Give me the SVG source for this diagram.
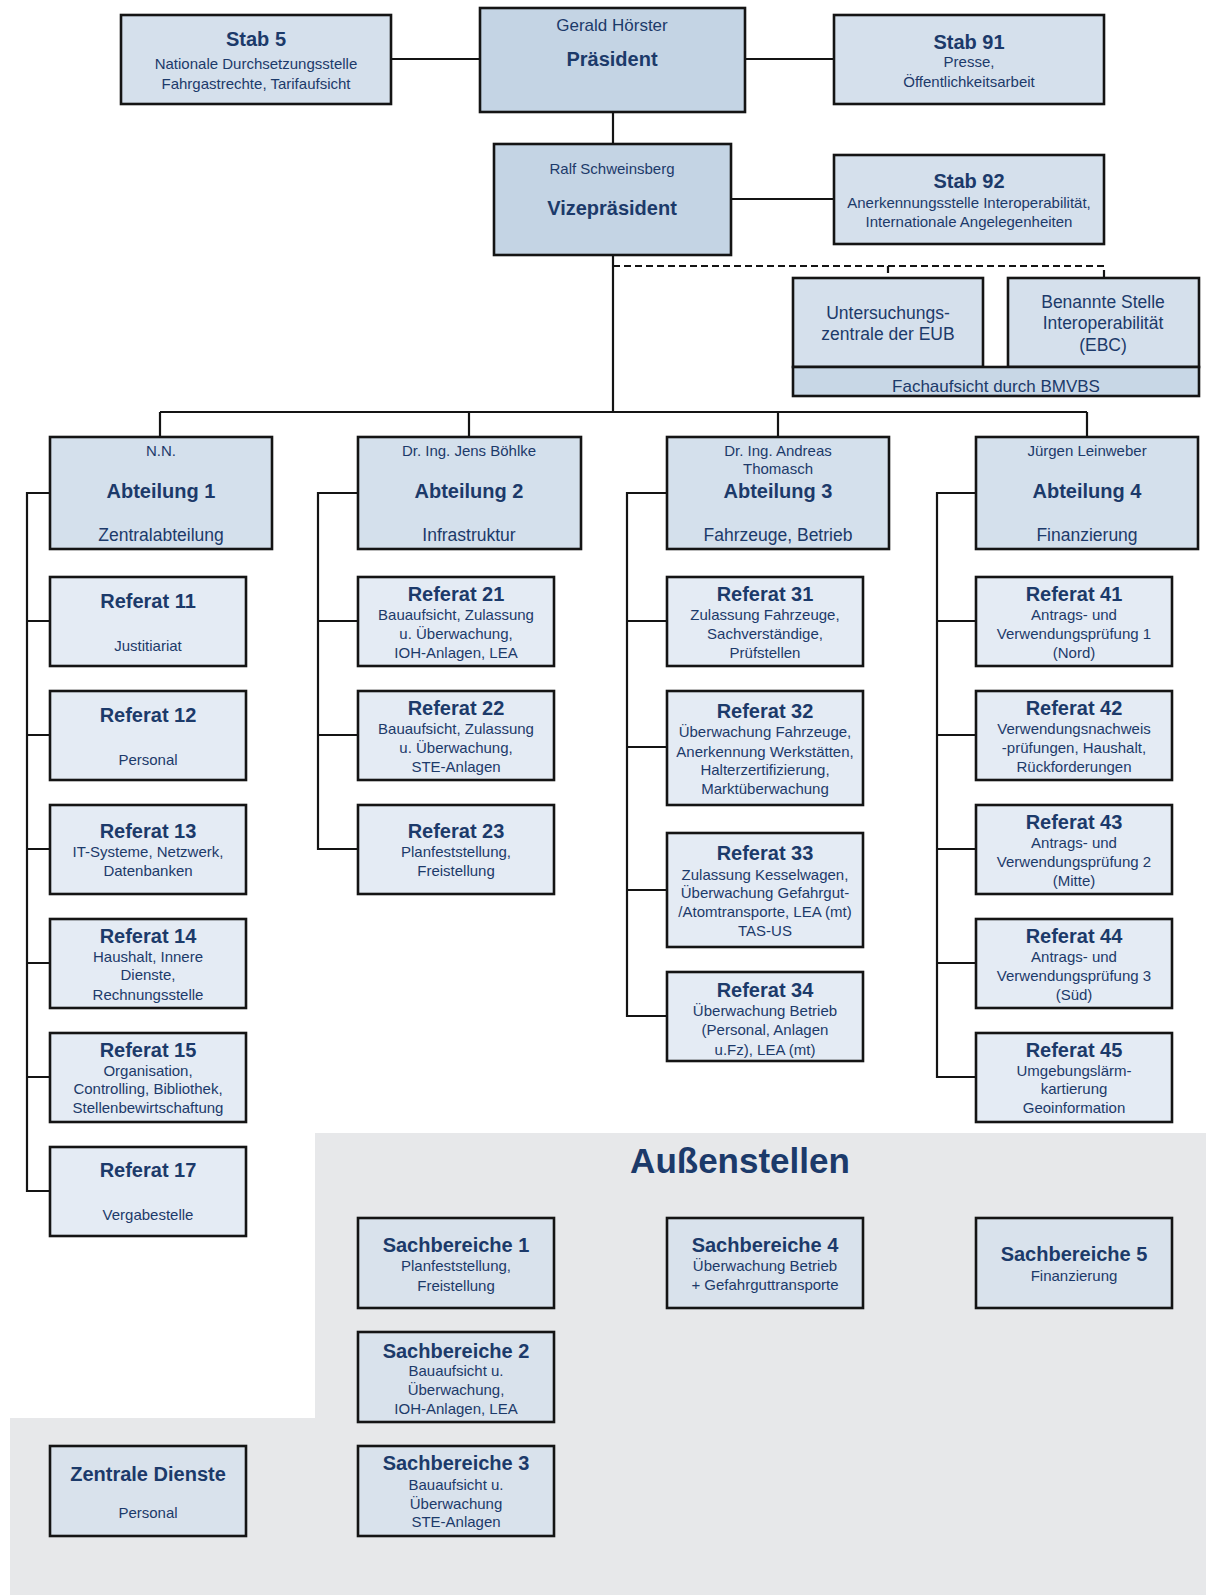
<svg xmlns="http://www.w3.org/2000/svg" width="1206" height="1595" viewBox="0 0 1206 1595">
<style>
text{font-family:"Liberation Sans",Arial,sans-serif;fill:#1c3a6a;text-anchor:middle}
.t{font-weight:bold;font-size:20px}
.s{font-size:15px}
.m{font-size:17.5px}
.box{stroke:#141414;stroke-width:2.6}
.top{fill:#c4d4e4}
.stab{fill:#d5e0ec}
.abt{fill:#d4e0ec}
.ref{fill:#e4ebf4}
.sb{fill:#d9e2ec}
.bar{fill:#c8d7e6}
.c{fill:none;stroke:#141414;stroke-width:2.2}
.d{fill:none;stroke:#141414;stroke-width:2.2;stroke-dasharray:7 4}
</style>
<rect width="1206" height="1595" fill="#ffffff"/>
<path d="M315,1133 H1206 V1595 H10 V1418 H315 Z" fill="#e7e8ea"/>
<text x="740" y="1173" style="font-weight:bold;font-size:35px">Außenstellen</text>

<g id="connectors">
<path class="c" d="M391,59 H480 M745,59 H834 M613,112 V143 M731,199 H834 M613,255 V412"/>
<path class="d" d="M613,266 H1104 V278 M888,266 V278"/>
<path class="c" d="M160,412 H1087 M160,412 V437 M469,412 V437 M778,412 V437 M1087,412 V437"/>
<path class="c" d="M50,493 H27 V1191 H50 M27,621 H50 M27,735 H50 M27,849 H50 M27,963 H50 M27,1077 H50"/>
<path class="c" d="M358,493 H318 V849 H358 M318,621 H358 M318,735 H358"/>
<path class="c" d="M667,493 H627 V1016 H667 M627,621 H667 M627,747 H667 M627,890 H667"/>
<path class="c" d="M976,493 H937 V1077 H976 M937,621 H976 M937,735 H976 M937,849 H976 M937,963 H976"/>
</g>

<g id="stab5"><rect class="box stab" x="121" y="15" width="270" height="89"/>
<text class="t" x="256" y="46">Stab 5</text>
<text class="s" x="256" y="69">Nationale Durchsetzungsstelle</text>
<text class="s" x="256" y="89">Fahrgastrechte, Tarifaufsicht</text></g>

<g id="praesident"><rect class="box top" x="480" y="8" width="265" height="104"/>
<text x="612" y="31" style="font-size:17px">Gerald Hörster</text>
<text class="t" x="612" y="66">Präsident</text></g>

<g id="stab91"><rect class="box stab" x="834" y="15" width="270" height="89"/>
<text class="t" x="969" y="49">Stab 91</text>
<text class="s" x="969" y="67">Presse,</text>
<text class="s" x="969" y="87">Öffentlichkeitsarbeit</text></g>

<g id="vize"><rect class="box top" x="494" y="144" width="237" height="111"/>
<text x="612" y="174" style="font-size:15px">Ralf Schweinsberg</text>
<text class="t" x="612" y="215">Vizepräsident</text></g>

<g id="stab92"><rect class="box stab" x="834" y="155" width="270" height="89"/>
<text class="t" x="969" y="188">Stab 92</text>
<text class="s" x="969" y="208">Anerkennungsstelle Interoperabilität,</text>
<text class="s" x="969" y="227">Internationale Angelegenheiten</text></g>

<g id="eub"><rect class="box stab" x="793" y="278" width="190" height="89"/>
<text class="m" x="888" y="319">Untersuchungs-</text>
<text class="m" x="888" y="340">zentrale der EUB</text></g>

<g id="ebc"><rect class="box stab" x="1008" y="278" width="191" height="89"/>
<text class="m" x="1103" y="308">Benannte Stelle</text>
<text class="m" x="1103" y="329">Interoperabilität</text>
<text class="m" x="1103" y="351">(EBC)</text></g>

<g id="fachaufsicht"><rect class="box bar" x="793" y="367" width="406" height="29"/>
<text x="996" y="392" style="font-size:17px">Fachaufsicht durch BMVBS</text></g>

<g id="abt1"><rect class="box abt" x="50" y="437" width="222" height="112"/>
<text class="s" x="161" y="456">N.N.</text>
<text class="t" x="161" y="498">Abteilung 1</text>
<text class="m" x="161" y="541">Zentralabteilung</text></g>

<g id="abt2"><rect class="box abt" x="358" y="437" width="223" height="112"/>
<text class="s" x="469" y="456">Dr. Ing. Jens Böhlke</text>
<text class="t" x="469" y="498">Abteilung 2</text>
<text class="m" x="469" y="541">Infrastruktur</text></g>

<g id="abt3"><rect class="box abt" x="667" y="437" width="222" height="112"/>
<text class="s" x="778" y="456">Dr. Ing. Andreas</text>
<text class="s" x="778" y="474">Thomasch</text>
<text class="t" x="778" y="498">Abteilung 3</text>
<text class="m" x="778" y="541">Fahrzeuge, Betrieb</text></g>

<g id="abt4"><rect class="box abt" x="976" y="437" width="222" height="112"/>
<text class="s" x="1087" y="456">Jürgen Leinweber</text>
<text class="t" x="1087" y="498">Abteilung 4</text>
<text class="m" x="1087" y="541">Finanzierung</text></g>

<g id="ref11"><rect class="box ref" x="50" y="577" width="196" height="89"/>
<text class="t" x="148" y="608">Referat 11</text>
<text class="s" x="148" y="651">Justitiariat</text></g>
<g id="ref12"><rect class="box ref" x="50" y="691" width="196" height="89"/>
<text class="t" x="148" y="722">Referat 12</text>
<text class="s" x="148" y="765">Personal</text></g>
<g id="ref13"><rect class="box ref" x="50" y="805" width="196" height="89"/>
<text class="t" x="148" y="838">Referat 13</text>
<text class="s" x="148" y="857">IT-Systeme, Netzwerk,</text>
<text class="s" x="148" y="876">Datenbanken</text></g>
<g id="ref14"><rect class="box ref" x="50" y="919" width="196" height="89"/>
<text class="t" x="148" y="943">Referat 14</text>
<text class="s" x="148" y="962">Haushalt, Innere</text>
<text class="s" x="148" y="980">Dienste,</text>
<text class="s" x="148" y="1000">Rechnungsstelle</text></g>
<g id="ref15"><rect class="box ref" x="50" y="1033" width="196" height="89"/>
<text class="t" x="148" y="1057">Referat 15</text>
<text class="s" x="148" y="1076">Organisation,</text>
<text class="s" x="148" y="1094">Controlling, Bibliothek,</text>
<text class="s" x="148" y="1113">Stellenbewirtschaftung</text></g>
<g id="ref17"><rect class="box ref" x="50" y="1147" width="196" height="89"/>
<text class="t" x="148" y="1177">Referat 17</text>
<text class="s" x="148" y="1220">Vergabestelle</text></g>

<g id="ref21"><rect class="box ref" x="358" y="577" width="196" height="89"/>
<text class="t" x="456" y="601">Referat 21</text>
<text class="s" x="456" y="620">Bauaufsicht, Zulassung</text>
<text class="s" x="456" y="639">u. Überwachung,</text>
<text class="s" x="456" y="658">IOH-Anlagen, LEA</text></g>
<g id="ref22"><rect class="box ref" x="358" y="691" width="196" height="89"/>
<text class="t" x="456" y="715">Referat 22</text>
<text class="s" x="456" y="734">Bauaufsicht, Zulassung</text>
<text class="s" x="456" y="753">u. Überwachung,</text>
<text class="s" x="456" y="772">STE-Anlagen</text></g>
<g id="ref23"><rect class="box ref" x="358" y="805" width="196" height="89"/>
<text class="t" x="456" y="838">Referat 23</text>
<text class="s" x="456" y="857">Planfeststellung,</text>
<text class="s" x="456" y="876">Freistellung</text></g>

<g id="ref31"><rect class="box ref" x="667" y="577" width="196" height="89"/>
<text class="t" x="765" y="601">Referat 31</text>
<text class="s" x="765" y="620">Zulassung Fahrzeuge,</text>
<text class="s" x="765" y="639">Sachverständige,</text>
<text class="s" x="765" y="658">Prüfstellen</text></g>
<g id="ref32"><rect class="box ref" x="667" y="691" width="196" height="114"/>
<text class="t" x="765" y="718">Referat 32</text>
<text class="s" x="765" y="737">Überwachung Fahrzeuge,</text>
<text class="s" x="765" y="757">Anerkennung Werkstätten,</text>
<text class="s" x="765" y="775">Halterzertifizierung,</text>
<text class="s" x="765" y="794">Marktüberwachung</text></g>
<g id="ref33"><rect class="box ref" x="667" y="833" width="196" height="114"/>
<text class="t" x="765" y="860">Referat 33</text>
<text class="s" x="765" y="880">Zulassung Kesselwagen,</text>
<text class="s" x="765" y="898">Überwachung Gefahrgut-</text>
<text class="s" x="765" y="917">/Atomtransporte, LEA (mt)</text>
<text class="s" x="765" y="936">TAS-US</text></g>
<g id="ref34"><rect class="box ref" x="667" y="972" width="196" height="89"/>
<text class="t" x="765" y="997">Referat 34</text>
<text class="s" x="765" y="1016">Überwachung Betrieb</text>
<text class="s" x="765" y="1035">(Personal, Anlagen</text>
<text class="s" x="765" y="1055">u.Fz), LEA (mt)</text></g>

<g id="ref41"><rect class="box ref" x="976" y="577" width="196" height="89"/>
<text class="t" x="1074" y="601">Referat 41</text>
<text class="s" x="1074" y="620">Antrags- und</text>
<text class="s" x="1074" y="639">Verwendungsprüfung 1</text>
<text class="s" x="1074" y="658">(Nord)</text></g>
<g id="ref42"><rect class="box ref" x="976" y="691" width="196" height="89"/>
<text class="t" x="1074" y="715">Referat 42</text>
<text class="s" x="1074" y="734">Verwendungsnachweis</text>
<text class="s" x="1074" y="753">-prüfungen, Haushalt,</text>
<text class="s" x="1074" y="772">Rückforderungen</text></g>
<g id="ref43"><rect class="box ref" x="976" y="805" width="196" height="89"/>
<text class="t" x="1074" y="829">Referat 43</text>
<text class="s" x="1074" y="848">Antrags- und</text>
<text class="s" x="1074" y="867">Verwendungsprüfung 2</text>
<text class="s" x="1074" y="886">(Mitte)</text></g>
<g id="ref44"><rect class="box ref" x="976" y="919" width="196" height="89"/>
<text class="t" x="1074" y="943">Referat 44</text>
<text class="s" x="1074" y="962">Antrags- und</text>
<text class="s" x="1074" y="981">Verwendungsprüfung 3</text>
<text class="s" x="1074" y="1000">(Süd)</text></g>
<g id="ref45"><rect class="box ref" x="976" y="1033" width="196" height="89"/>
<text class="t" x="1074" y="1057">Referat 45</text>
<text class="s" x="1074" y="1076">Umgebungslärm-</text>
<text class="s" x="1074" y="1094">kartierung</text>
<text class="s" x="1074" y="1113">Geoinformation</text></g>

<g id="sb1"><rect class="box sb" x="358" y="1218" width="196" height="90"/>
<text class="t" x="456" y="1252">Sachbereiche 1</text>
<text class="s" x="456" y="1271">Planfeststellung,</text>
<text class="s" x="456" y="1291">Freistellung</text></g>
<g id="sb2"><rect class="box sb" x="358" y="1332" width="196" height="90"/>
<text class="t" x="456" y="1358">Sachbereiche 2</text>
<text class="s" x="456" y="1376">Bauaufsicht u.</text>
<text class="s" x="456" y="1395">Überwachung,</text>
<text class="s" x="456" y="1414">IOH-Anlagen, LEA</text></g>
<g id="sb3"><rect class="box sb" x="358" y="1446" width="196" height="90"/>
<text class="t" x="456" y="1470">Sachbereiche 3</text>
<text class="s" x="456" y="1490">Bauaufsicht u.</text>
<text class="s" x="456" y="1509">Überwachung</text>
<text class="s" x="456" y="1527">STE-Anlagen</text></g>
<g id="sb4"><rect class="box sb" x="667" y="1218" width="196" height="90"/>
<text class="t" x="765" y="1252">Sachbereiche 4</text>
<text class="s" x="765" y="1271">Überwachung Betrieb</text>
<text class="s" x="765" y="1290">+ Gefahrguttransporte</text></g>
<g id="sb5"><rect class="box sb" x="976" y="1218" width="196" height="90"/>
<text class="t" x="1074" y="1261">Sachbereiche 5</text>
<text class="s" x="1074" y="1281">Finanzierung</text></g>
<g id="zentrale"><rect class="box sb" x="50" y="1446" width="196" height="90"/>
<text class="t" x="148" y="1481">Zentrale Dienste</text>
<text class="s" x="148" y="1518">Personal</text></g>
</svg>
